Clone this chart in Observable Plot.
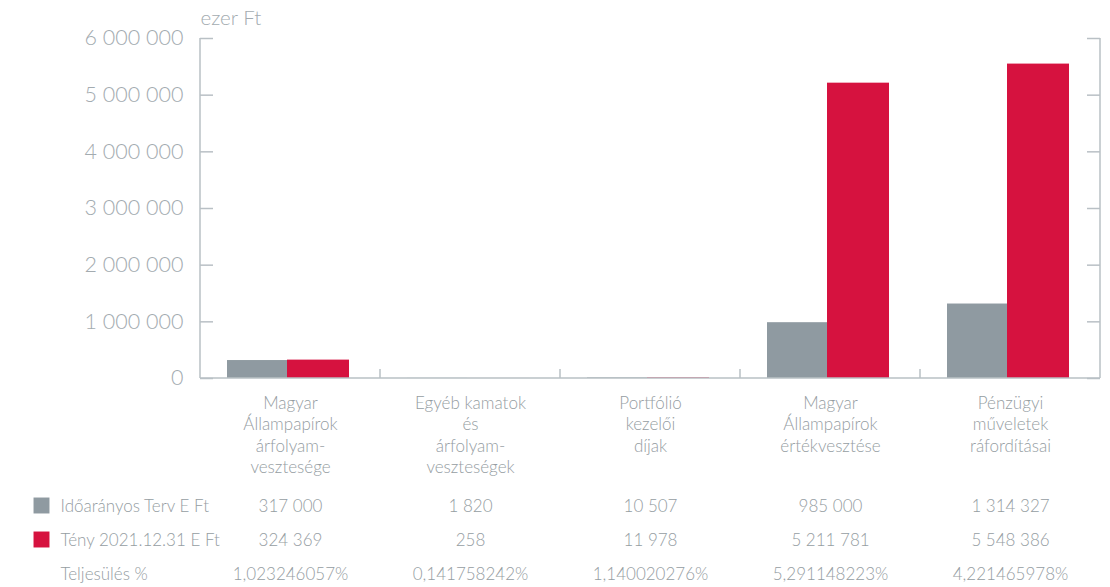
<!DOCTYPE html>
<html>
<head>
<meta charset="utf-8">
<script src="https://cdn.jsdelivr.net/npm/d3@7"></script>
<script src="https://cdn.jsdelivr.net/npm/@observablehq/plot@0.6"></script>
<style>
  html, body { margin: 0; padding: 0; background: #fff; }
  #chart svg { display: block; font-family: Lato, "Open Sans", sans-serif; font-weight: 300; }
</style>
</head>
<body>
<div id="chart"></div>
<script>
const categories = ["c1", "c2", "c3", "c4", "c5"];
const categoryLabels = [
  "Magyar\nÁllampapírok\nárfolyam-\nvesztesége",
  "Egyéb kamatok\nés\nárfolyam-\nveszteségek",
  "Portfólió\nkezelői\ndíjak",
  "Magyar\nÁllampapírok\nértékvesztése",
  "Pénzügyi\nműveletek\nráfordításai"
];
const planValues = [317000, 1820, 10507, 985000, 1314327];
const actualValues = [324369, 258, 11978, 5211781, 5548386];
const fulfilment = ["1,023246057%", "0,141758242%", "1,140020276%", "5,291148223%", "4,221465978%"];
const seriesNames = ["Időarányos Terv E Ft", "Tény 2021.12.31 E Ft", "Teljesülés %"];
const yTicks = [0, 1000000, 2000000, 3000000, 4000000, 5000000, 6000000];
const unitLabel = "ezer Ft";

const GRAY = "#8f9aa1";
const RED = "#d6123f";
const AXIS = "#b9c0c5";
const TICKTXT = "#a3abb0";
const TXT = "#959da2";

const fmt = v => d3.format(",")(v).replace(/,/g, " ");

const rows = categories.map((c, i) => ({
  cat: c, label: categoryLabels[i], plan: planValues[i], actual: actualValues[i], pct: fulfilment[i]
}));

const frameW = 900;

function structure(index, scales, values, dims) {
  const g = d3.create("svg:g").attr("stroke", AXIS).attr("stroke-width", 1.5).attr("fill", "none");
  const x0 = dims.marginLeft, x1 = dims.width - dims.marginRight;
  const yTop = scales.y(yTicks[yTicks.length - 1]), y0 = scales.y(0);
  g.append("line").attr("x1", x0).attr("x2", x0).attr("y1", yTop).attr("y2", y0);
  g.append("line").attr("x1", x1).attr("x2", x1).attr("y1", yTop).attr("y2", y0);
  g.append("line").attr("x1", x0).attr("x2", x1).attr("y1", y0).attr("y2", y0);
  categories.slice(1).forEach(c => {
    const xx = scales.x(c);
    g.append("line").attr("x1", xx).attr("x2", xx).attr("y1", y0 - 9).attr("y2", y0);
  });
  return g.node();
}

const plot = Plot.plot({
  width: 1110,
  height: 587,
  marginLeft: 200,
  marginRight: 10,
  marginTop: 38,
  marginBottom: 209,
  style: { fontFamily: "Lato, 'Open Sans', sans-serif", background: "#fff" },
  x: { domain: categories, padding: 0, axis: null },
  y: { domain: [0, 6000000], axis: null },
  marks: [
    Plot.barY(rows, { x: "cat", y: "plan", fill: GRAY, insetLeft: 27, insetRight: 93 }),
    Plot.barY(rows, { x: "cat", y: "actual", fill: RED, insetLeft: 87, insetRight: 31 }),
    Plot.ruleY(yTicks, { stroke: AXIS, strokeWidth: 1.5, insetRight: frameW - 13 }),
    Plot.ruleY(yTicks, { stroke: AXIS, strokeWidth: 1.5, insetLeft: frameW - 13 }),
    structure,
    Plot.axisY(yTicks, { tickSize: 0, tickPadding: 17, tickFormat: fmt, fontSize: 21.5, color: TICKTXT, label: null }),
    Plot.text([unitLabel], { frameAnchor: "top-left", dy: -20, lineAnchor: "middle", textAnchor: "start", fontSize: 20.5, fill: TICKTXT }),
    Plot.text(rows, { x: "cat", text: "label", frameAnchor: "bottom", dy: 15, lineAnchor: "top", lineHeight: 1.26, fontSize: 17, fill: TXT }),
    Plot.text(rows, { x: "cat", text: d => fmt(d.plan), frameAnchor: "bottom", dy: 128, lineAnchor: "middle", fontSize: 17, fill: TXT }),
    Plot.text(rows, { x: "cat", text: d => fmt(d.actual), frameAnchor: "bottom", dy: 162, lineAnchor: "middle", fontSize: 17, fill: TXT }),
    Plot.text(rows, { x: "cat", text: "pct", frameAnchor: "bottom", dy: 196, lineAnchor: "middle", fontSize: 17, fill: TXT }),
    Plot.text([seriesNames[0]], { frameAnchor: "bottom-left", dx: -140, dy: 128, lineAnchor: "middle", textAnchor: "start", fontSize: 17, fill: TXT }),
    Plot.text([seriesNames[1]], { frameAnchor: "bottom-left", dx: -140, dy: 162, lineAnchor: "middle", textAnchor: "start", fontSize: 17, fill: TXT }),
    Plot.text([seriesNames[2]], { frameAnchor: "bottom-left", dx: -140, dy: 196, lineAnchor: "middle", textAnchor: "start", fontSize: 17, fill: TXT }),
    Plot.dot([seriesNames[0]], { frameAnchor: "bottom-left", dx: -159, dy: 127, symbol: "square", r: 9, fill: GRAY, stroke: null }),
    Plot.dot([seriesNames[1]], { frameAnchor: "bottom-left", dx: -159, dy: 161, symbol: "square", r: 9, fill: RED, stroke: null })
  ]
});
document.getElementById("chart").appendChild(plot);
</script>
</body>
</html>
